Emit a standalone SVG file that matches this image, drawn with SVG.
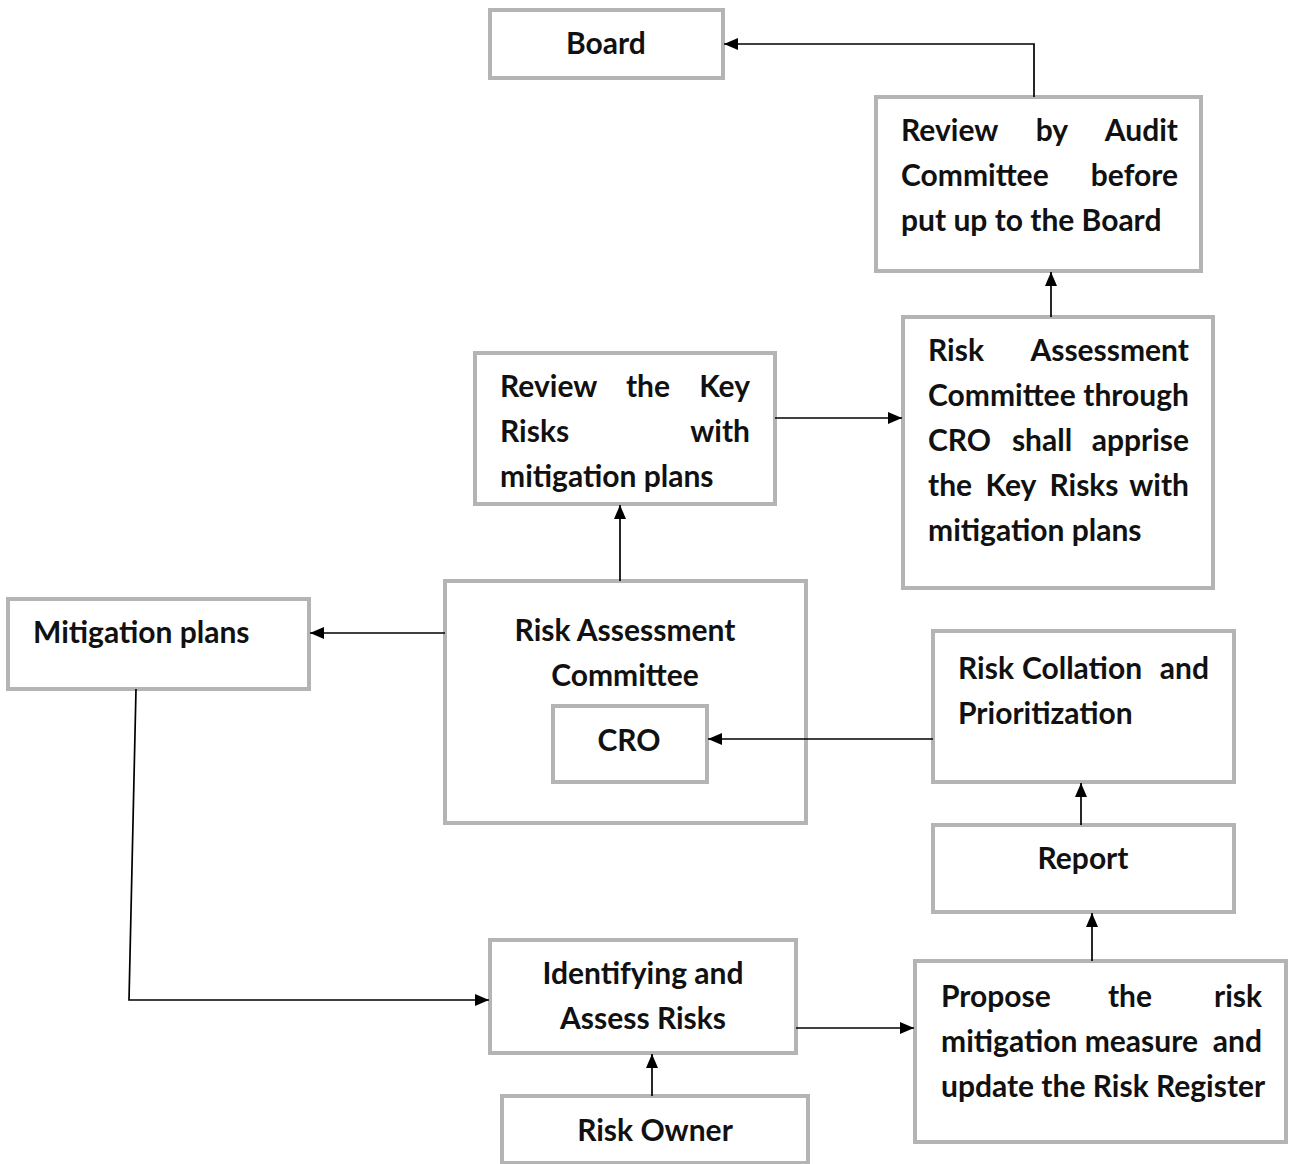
<svg xmlns="http://www.w3.org/2000/svg" width="1295" height="1164" viewBox="0 0 1295 1164">
<defs>
<marker id="ah" viewBox="0 0 14 12" refX="14" refY="6" markerWidth="14" markerHeight="12" markerUnits="userSpaceOnUse" orient="auto">
<path d="M0,0 L14,6 L0,12 Z" fill="#000"/>
</marker>
<style>
.box{fill:#fff;stroke:#b4b4b4;stroke-width:4}
text{font-family:Lato,"Liberation Sans",sans-serif;font-weight:700;font-size:30px;fill:#111}
.m{text-anchor:middle}
.e{text-anchor:end}
.c{fill:none;stroke:#000;stroke-width:1.7;marker-end:url(#ah)}
</style>
</defs>
<rect width="1295" height="1164" fill="#fff"/>
<g id="board">
<rect class="box" x="490" y="10" width="233" height="68"/>
<text class="m" x="606" y="54">Board</text>
</g>
<g id="audit">
<rect class="box" x="876" y="97" width="325" height="174"/>
<text x="901" y="141">Review</text><text class="m" x="1052" y="141">by</text><text class="e" x="1178" y="141">Audit</text>
<text x="901" y="186">Committee</text><text class="e" x="1178" y="186">before</text>
<text x="901" y="231">put up to the Board</text>
</g>
<g id="review-key">
<rect class="box" x="475" y="353" width="300" height="151"/>
<text x="500" y="397">Review</text><text class="m" x="648" y="397">the</text><text class="e" x="750" y="397">Key</text>
<text x="500" y="442">Risks</text><text class="e" x="750" y="442">with</text>
<text x="500" y="487">mitigation plans</text>
</g>
<g id="rac-cro">
<rect class="box" x="903" y="317" width="310" height="271"/>
<text x="928" y="361">Risk</text><text class="e" x="1189" y="361">Assessment</text>
<text x="928" y="406">Committee</text><text class="e" x="1189" y="406">through</text>
<text x="928" y="451">CRO</text><text class="m" x="1042" y="451">shall</text><text class="e" x="1189" y="451">apprise</text>
<text x="928" y="496">the</text><text class="m" x="1011" y="496">Key</text><text class="m" x="1084" y="496">Risks</text><text class="e" x="1189" y="496">with</text>
<text x="928" y="541">mitigation plans</text>
</g>
<g id="mitigation">
<rect class="box" x="8" y="599" width="301" height="90"/>
<text x="33" y="643">Mitigation plans</text>
</g>
<g id="rac">
<rect class="box" x="445" y="581" width="361" height="242"/>
<text class="m" x="625" y="641">Risk Assessment</text>
<text class="m" x="625" y="686">Committee</text>
</g>
<g id="cro">
<rect class="box" x="553" y="706" width="154" height="76"/>
<text class="m" x="629" y="751">CRO</text>
</g>
<g id="collation">
<rect class="box" x="933" y="631" width="301" height="151"/>
<text x="958" y="679">Risk</text><text class="m" x="1082" y="679">Collation</text><text class="e" x="1209" y="679">and</text>
<text x="958" y="724">Prioritization</text>
</g>
<g id="report">
<rect class="box" x="933" y="825" width="301" height="87"/>
<text class="m" x="1083" y="869">Report</text>
</g>
<g id="identifying">
<rect class="box" x="490" y="940" width="306" height="113"/>
<text class="m" x="643" y="984">Identifying and</text>
<text class="m" x="643" y="1029">Assess Risks</text>
</g>
<g id="risk-owner">
<rect class="box" x="502" y="1096" width="306" height="67"/>
<text class="m" x="655" y="1141">Risk Owner</text>
</g>
<g id="propose">
<rect class="box" x="915" y="961" width="371" height="181"/>
<text x="941" y="1007">Propose</text><text class="m" x="1130" y="1007">the</text><text class="e" x="1262" y="1007">risk</text>
<text x="941" y="1052">mitigation measure</text><text class="e" x="1262" y="1052">and</text>
<text x="941" y="1097">update the Risk Register</text>
</g>
<g id="connectors">
<path class="c" d="M1034,97 V44 H724"/>
<path class="c" d="M1051,317 V272"/>
<path class="c" d="M775,418 H902"/>
<path class="c" d="M620,581 V505"/>
<path class="c" d="M445,633 H310"/>
<path class="c" d="M933,739 H708"/>
<path class="c" d="M1081,825 V783"/>
<path class="c" d="M1092,961 V913"/>
<path class="c" d="M796,1028 H914"/>
<path class="c" d="M652,1096 V1054"/>
<path class="c" d="M136,689 L129,1000 H489"/>
</g>
</svg>
